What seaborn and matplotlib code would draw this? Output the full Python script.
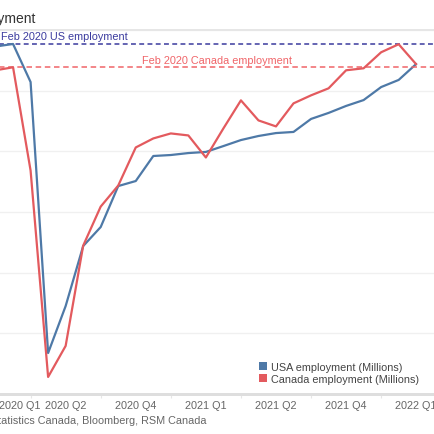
import matplotlib
matplotlib.use("Agg")
import matplotlib.pyplot as plt
import seaborn as sns
import pandas as pd
import numpy as np
from matplotlib.patches import Patch

# ---- data (monthly, Jan 2020 .. Jan 2022), millions ----
months = pd.date_range("2020-01-01", "2022-01-01", freq="MS").strftime("%b %Y").tolist()
usa_employment = [152.32, 152.50, 149.78, 130.40, 133.76, 138.05, 139.41, 142.34, 142.70,
                  144.49, 144.56, 144.70, 144.78, 145.20, 145.63, 145.92, 146.13, 146.21,
                  147.14, 147.57, 148.07, 148.49, 149.42, 149.93, 151.07]
canada_employment = [19.07, 19.10, 18.07, 16.01, 16.32, 17.32, 17.71, 17.92, 18.30,
                     18.39, 18.44, 18.42, 18.20, 18.49, 18.77, 18.57, 18.51, 18.74,
                     18.82, 18.89, 19.07, 19.09, 19.25, 19.33, 19.13]
tick_positions = [1.4, 4, 8, 12, 16, 20, 24]
tick_labels = ["2020 Q1", "2020 Q2", "2020 Q4", "2021 Q1", "2021 Q2", "2021 Q4", "2022 Q1"]
series_names = ["USA employment (Millions)", "Canada employment (Millions)"]

df = pd.DataFrame({"idx": np.arange(len(months)), "month": months,
                   "usa": usa_employment, "canada": canada_employment})

sns.set_theme(style="white")
plt.rcParams["font.family"] = ["Liberation Sans", "DejaVu Sans"]

US_COL = "#4e79a7"
CA_COL = "#e35a5e"
US_REF = "#3b3b9e"
CA_REF = "#f06468"

W = H = 435
fig = plt.figure(figsize=(4.35, 4.35), dpi=100)
fig.patch.set_facecolor("white")
ax = fig.add_axes([-22 / W, 40 / H, 464.5 / W, 364 / H])
ax2 = ax.twinx()

sns.lineplot(data=df, x="idx", y="usa", ax=ax, color=US_COL, linewidth=1.6, legend=False)
sns.lineplot(data=df, x="idx", y="canada", ax=ax2, color=CA_COL, linewidth=1.6, legend=False)

ax.set_xlim(-1, 25.5)
ax.set_ylim(127.47, 153.5)
ax2.set_ylim(15.84, 19.472)

# reference lines at Feb 2020 levels
ax.axhline(usa_employment[1], color=US_REF, linestyle=(0, (3.2, 2.2)), linewidth=1.1, zorder=1)
ax2.axhline(canada_employment[1], color=CA_REF, linestyle=(0, (3.6, 2.4)), linewidth=1.1, zorder=1)

fig.text(1 / W, 1 - 40.5 / H, "Feb 2020 US employment", color=US_REF, fontsize=7.8,
         ha="left", va="baseline")
fig.text(217 / W, 1 - 64 / H, "Feb 2020 Canada employment", color=CA_REF, fontsize=7.8,
         ha="center", va="baseline")

# grid
yt = np.linspace(127.47, 153.5, 7)
ax.set_yticks(yt)
ax.yaxis.grid(True, color="#f0f0f0", linewidth=1.0)
ax.xaxis.grid(False)
ax2.grid(False)
ax.tick_params(axis="y", left=False, labelleft=False)
ax2.tick_params(axis="y", right=False, labelright=False)
ax.set_ylabel("")
ax2.set_ylabel("")
ax.set_xlabel("")

for a in (ax, ax2):
    for s in ("left", "right"):
        a.spines[s].set_visible(False)
    a.spines["top"].set_visible(True)
    a.spines["top"].set_color("#e6e6e6")
    a.spines["top"].set_linewidth(1.2)
    a.spines["bottom"].set_color("#dedede")
    a.spines["bottom"].set_linewidth(2.0)

ax.set_xticks(tick_positions)
ax.set_xticklabels(tick_labels)
ax.set_xticks([2, 6, 10, 14, 18, 22], minor=True)
ax.tick_params(axis="x", which="major", length=0, pad=4, labelsize=7.8, labelcolor="#666666")
ax.tick_params(axis="x", which="minor", length=3, width=0.8, color="#e6e6e6", bottom=True)

# legend
handles = [Patch(facecolor=US_COL, edgecolor="none"), Patch(facecolor=CA_COL, edgecolor="none")]
fig.legend(handles, series_names, loc="upper left", bbox_to_anchor=(259 / W, 1 - 363 / H),
           frameon=False, fontsize=7.8, handlelength=0.75, handleheight=0.75,
           handletextpad=0.35, labelspacing=0.18, borderpad=0, borderaxespad=0,
           labelcolor="#444444")

# title and source (cropped at left edge as in the reference)
fig.text(36 / W, 1 - 22.5 / H, "Employment", fontsize=10, color="#333333",
         ha="right", va="baseline")
fig.text(207 / W, 1 - 424 / H, "Source: Statistics Canada, Bloomberg, RSM Canada",
         fontsize=7.8, color="#666666", ha="right", va="baseline")

fig.savefig("out.png", dpi=100, facecolor="white")
